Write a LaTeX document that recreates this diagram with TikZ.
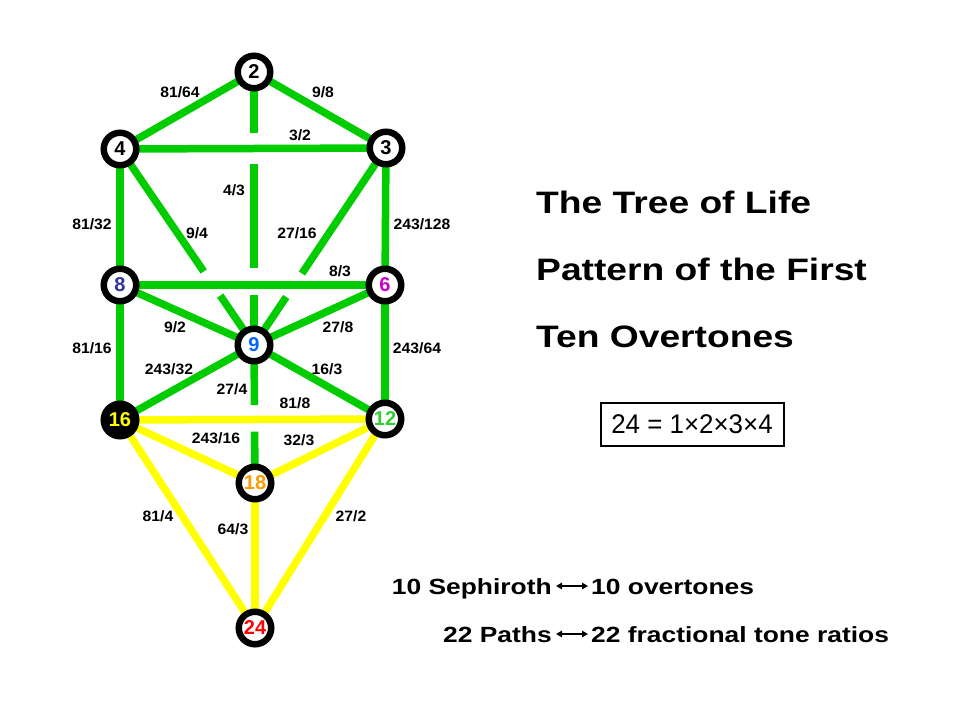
\documentclass[tikz,border=0pt]{standalone}
\usepackage{fontspec}
\setmainfont{Liberation Sans}
\newfontfamily\widefont[FakeStretch=1.2]{Liberation Sans}
\newfontfamily\eqfont[FakeStretch=0.96]{Liberation Sans}
\newfontfamily\lblfont[FakeStretch=1.05]{Liberation Sans}
\usetikzlibrary{backgrounds,calc,arrows.meta}
\definecolor{pathgreen}{RGB}{0,204,0}
\definecolor{pathyellow}{RGB}{255,255,0}
\definecolor{ceight}{RGB}{51,51,153}
\definecolor{csix}{RGB}{204,0,204}
\definecolor{cnine}{RGB}{0,102,255}
\definecolor{ctwelve}{RGB}{51,204,51}
\definecolor{ceighteen}{RGB}{255,153,0}
\begin{document}
\begin{tikzpicture}[x=1pt,y=-1pt,
  seph/.style={circle,draw=black,line width=6.5pt,fill=white,minimum size=32.5pt,inner sep=0pt,font=\bfseries\fontsize{20}{20}\selectfont},
  gpath/.style={draw=pathgreen,line width=7.5pt},
  ypath/.style={draw=pathyellow,line width=7.5pt},
  ratio/.style={inner sep=0pt,font=\lblfont\bfseries\fontsize{15}{15}\selectfont},
  titleline/.style={anchor=base west,inner sep=0pt,font=\widefont\bfseries\fontsize{31}{31}\selectfont},
  corr/.style={inner sep=0pt,font=\widefont\bfseries\fontsize{22}{22}\selectfont},
  dblarrow/.style={{Triangle[length=6pt,width=6.5pt]}-{Triangle[length=6pt,width=6.5pt]},line width=2pt}
]
\useasboundingbox (0,0) rectangle (960,720);

% Sephiroth
\node[seph] (n2) at (254,72) {2};
\node[seph] (n4) at (120,149) {4};
\node[seph] (n3) at (386,148) {3};
\node[seph,text=ceight] (n8) at (120,285) {8};
\node[seph,text=csix] (n6) at (385,285) {6};
\node[seph,text=cnine] (n9) at (254,345) {9};
\node[seph,fill=black,text=pathyellow] (n16) at (120,420) {16};
\node[seph,text=ctwelve] (n12) at (385,419) {12};
\node[seph,text=ceighteen] (n18) at (255,483) {18};
\node[seph,text=red] (n24) at (255,628) {24};

% Paths
\begin{scope}[on background layer]
\draw[gpath] (n2.center) -- (n4.center);
\draw[gpath] (n2.center) -- (n3.center);
\draw[gpath] (n4.center) -- (n3.center);
\draw[gpath] (n4.center) -- (n8.center);
\draw[gpath] (n3.center) -- (n6.center);
\draw[gpath] (n8.center) -- (n6.center);
\draw[gpath] (n8.center) -- (n9.center);
\draw[gpath] (n6.center) -- (n9.center);
\draw[gpath] (n8.center) -- (n16.center);
\draw[gpath] (n6.center) -- (n12.center);
\draw[gpath] (n9.center) -- (n16.center);
\draw[gpath] (n9.center) -- (n12.center);
\draw[gpath] (n2.center) -- ($(n2)!0.2234!(n9)$);
\draw[gpath] ($(n2)!0.337!(n9)$) -- ($(n2)!0.719!(n9)$);
\draw[gpath] ($(n2)!0.817!(n9)$) -- (n9.center);
\draw[gpath] (n4.center) -- ($(n4)!0.625!(n9)$);
\draw[gpath] ($(n4)!0.748!(n9)$) -- (n9.center);
\draw[gpath] (n3.center) -- ($(n3)!0.637!(n9)$);
\draw[gpath] ($(n3)!0.756!(n9)$) -- (n9.center);
\draw[gpath] (n9.center) -- ($(n9)!0.435!(n18)$);
\draw[gpath] ($(n9)!0.628!(n18)$) -- (n18.center);
\draw[ypath] (n16.center) -- (n12.center);
\draw[ypath] (n16.center) -- (n18.center);
\draw[ypath] (n12.center) -- (n18.center);
\draw[ypath] (n16.center) -- (n24.center);
\draw[ypath] (n18.center) -- (n24.center);
\draw[ypath] (n12.center) -- (n24.center);
\end{scope}

% Ratios
\node[ratio] (r1) at (180,92) {81/64};
\node[ratio] (r2) at (323,92) {9/8};
\node[ratio] (r3) at (300,135) {3/2};
\node[ratio] (r4) at (234,190) {4/3};
\node[ratio] (r5) at (92,224) {81/32};
\node[ratio] (r6) at (197,233) {9/4};
\node[ratio] (r7) at (297,233) {27/16};
\node[ratio] (r8) at (422,224) {243/128};
\node[ratio] (r9) at (340,271) {8/3};
\node[ratio] (r10) at (175,327) {9/2};
\node[ratio] (r11) at (338,327) {27/8};
\node[ratio] (r12) at (92,348) {81/16};
\node[ratio] (r13) at (417,348) {243/64};
\node[ratio] (r14) at (169,369) {243/32};
\node[ratio] (r15) at (327,369) {16/3};
\node[ratio] (r16) at (232,389) {27/4};
\node[ratio] (r17) at (295,403) {81/8};
\node[ratio] (r18) at (216,438) {243/16};
\node[ratio] (r19) at (299,440) {32/3};
\node[ratio] (r20) at (158,516) {81/4};
\node[ratio] (r21) at (233,529) {64/3};
\node[ratio] (r22) at (351,516) {27/2};

% Title
\node[titleline] (t1) at (536,213) {The Tree of Life};
\node[titleline] (t2) at (536,280) {Pattern of the First};
\node[titleline] (t3) at (536,347) {Ten Overtones};

% Equation box
\node[draw=black,line width=2pt,minimum width=183pt,minimum height=43pt,inner sep=0pt,font=\eqfont\fontsize{27}{27}\selectfont] (eq) at (692,424) {24 = 1×2×3×4};

% Correspondences
\node[corr,anchor=base east] (s1) at (552,594) {10 Sephiroth};
\node[corr,anchor=base west] (o1) at (591,594) {10 overtones};
\node[corr,anchor=base east] (s2) at (552,642) {22 Paths};
\node[corr,anchor=base west] (o2) at (591,642) {22 fractional tone ratios};
\draw[dblarrow] ([xshift=4pt,yshift=8pt]s1.base east) -- ([xshift=-3pt,yshift=8pt]o1.base west);
\draw[dblarrow] ([xshift=4pt,yshift=8pt]s2.base east) -- ([xshift=-3pt,yshift=8pt]o2.base west);
\end{tikzpicture}
\end{document}
